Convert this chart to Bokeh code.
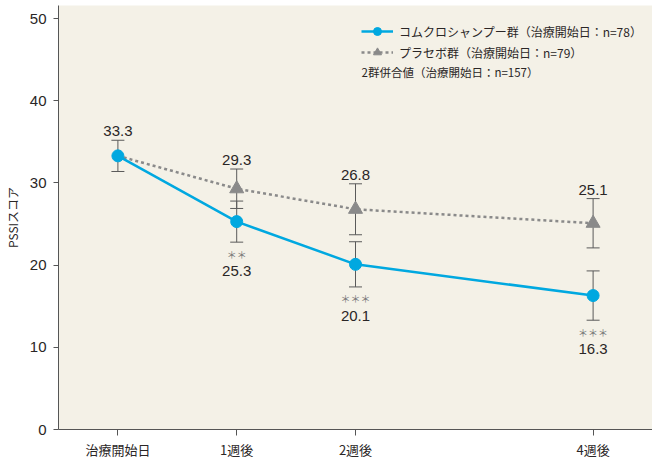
from bokeh.plotting import figure
from bokeh.models import (ColumnDataSource, Whisker, TeeHead, FixedTicker, Legend,
                          LegendItem, Label, Range1d)
from bokeh.core.properties import value
from bokeh.embed import file_html
from bokeh.resources import INLINE

# ---- data ----
tick_weeks = [0, 1, 2, 4]
tick_labels = ["治療開始日", "1週後", "2週後", "4週後"]

baseline_week = [0]
baseline_mean = [33.3]          # 2群併合値
baseline_err = [1.9]

combo_weeks = [1, 2, 4]
combo_mean = [25.3, 20.1, 16.3]
combo_err = [2.5, 2.75, 3.0]
combo_sig = ["＊＊", "＊＊＊", "＊＊＊"]

placebo_weeks = [1, 2, 4]
placebo_mean = [29.3, 26.8, 25.1]
placebo_err = [2.4, 3.1, 3.0]

combo_label = "コムクロシャンプー群（治療開始日：n=78）"
placebo_label = "プラセボ群（治療開始日：n=79）"
pooled_label = "2群併合値（治療開始日：n=157）"
y_label = "PSSIスコア"

# ---- styles ----
CYAN = "#00a8e0"
GREY = "#8a8a8a"
DARK = "#2a2626"
AXIS = "#555555"
JP = "Noto Sans CJK JP"
NUM = "Liberation Sans"

p = figure(width=652, height=461, output_backend="svg", toolbar_location=None,
           x_range=Range1d(-0.5, 4.5), y_range=Range1d(0, 51.6),
           min_border_left=52, min_border_right=0, min_border_top=5, min_border_bottom=26)
p.background_fill_color = "#f4f1e7"
p.border_fill_color = "white"
p.outline_line_color = None
p.xgrid.visible = False
p.ygrid.visible = False

# axes
p.xaxis.ticker = FixedTicker(ticks=tick_weeks)
p.xaxis.major_label_overrides = {w: l for w, l in zip(tick_weeks, tick_labels)}
p.xaxis.major_label_text_font = JP
p.xaxis.major_label_text_font_size = "13px"
p.xaxis.major_label_text_color = DARK
p.xaxis.major_tick_out = 6
p.xaxis.major_tick_in = 0
p.xaxis.minor_tick_line_color = None
p.xaxis.major_label_standoff = 4
p.xaxis.axis_line_color = AXIS
p.xaxis.major_tick_line_color = AXIS

p.yaxis.ticker = FixedTicker(ticks=[0, 10, 20, 30, 40, 50])
p.yaxis.major_label_text_font = NUM
p.yaxis.major_label_text_font_size = "15px"
p.yaxis.major_label_text_color = DARK
p.yaxis.major_tick_out = 5
p.yaxis.major_tick_in = 0
p.yaxis.minor_tick_line_color = None
p.yaxis.major_label_standoff = 7
p.yaxis.axis_line_color = AXIS
p.yaxis.major_tick_line_color = AXIS
p.yaxis.axis_label = y_label
p.yaxis.axis_label_text_font = JP
p.yaxis.axis_label_text_font_size = "12px"
p.yaxis.axis_label_text_font_style = "normal"
p.yaxis.axis_label_text_color = DARK
p.yaxis.axis_label_standoff = 6

# sources
base_src = ColumnDataSource(dict(x=baseline_week, y=baseline_mean,
                                 lo=[m - e for m, e in zip(baseline_mean, baseline_err)],
                                 hi=[m + e for m, e in zip(baseline_mean, baseline_err)],
                                 lab=[f"{v:.1f}" for v in baseline_mean]))
combo_src = ColumnDataSource(dict(x=combo_weeks, y=combo_mean,
                                  lo=[m - e for m, e in zip(combo_mean, combo_err)],
                                  hi=[m + e for m, e in zip(combo_mean, combo_err)],
                                  lab=[f"{v:.1f}" for v in combo_mean], sig=combo_sig))
plac_src = ColumnDataSource(dict(x=placebo_weeks, y=placebo_mean,
                                 lo=[m - e for m, e in zip(placebo_mean, placebo_err)],
                                 hi=[m + e for m, e in zip(placebo_mean, placebo_err)],
                                 lab=[f"{v:.1f}" for v in placebo_mean]))

# whiskers (under glyphs)
for src in (base_src, combo_src, plac_src):
    w = Whisker(source=src, base="x", upper="hi", lower="lo",
                line_color="#5a5a5a", line_width=1,
                upper_head=TeeHead(size=13, line_color="#5a5a5a", line_width=1),
                lower_head=TeeHead(size=13, line_color="#5a5a5a", line_width=1),
                level="underlay")
    p.add_layout(w)

# lines
plac_line = p.line(baseline_week + placebo_weeks, baseline_mean + placebo_mean,
                   line_color=GREY, line_width=2.5, line_dash="3 3")
combo_line = p.line(baseline_week + combo_weeks, baseline_mean + combo_mean,
                    line_color=CYAN, line_width=2.5)

# markers
plac_mk = p.scatter("x", "y", source=plac_src, marker="triangle", size=14,
                    fill_color=GREY, line_color=GREY)
combo_mk = p.scatter("x", "y", source=combo_src, marker="circle", size=12,
                     fill_color=CYAN, line_color=CYAN)
p.scatter("x", "y", source=base_src, marker="circle", size=12,
          fill_color=CYAN, line_color=CYAN)

# value labels
p.text("x", "hi", text="lab", source=base_src, text_font=value(NUM), text_font_size="15px",
       text_color=DARK, text_align="center", text_baseline="alphabetic", y_offset=-9)
p.text("x", "hi", text="lab", source=plac_src, text_font=value(NUM), text_font_size="15px",
       text_color=DARK, text_align="center", text_baseline="alphabetic", y_offset=-9)
p.text("x", "lo", text="sig", source=combo_src, text_font=value(JP), text_font_size="10px",
       text_color="#777777", text_align="center", text_baseline="middle", y_offset=12)
p.text("x", "lo", text="lab", source=combo_src, text_font=value(NUM), text_font_size="15px",
       text_color=DARK, text_align="center", text_baseline="alphabetic", y_offset=29)

# legend
legend = Legend(items=[LegendItem(label=combo_label, renderers=[combo_line, combo_mk]),
                       LegendItem(label=placebo_label, renderers=[plac_line, plac_mk])],
                location=(303, 367), orientation="vertical",
                glyph_width=32, glyph_height=20, label_height=20, spacing=1,
                padding=0, margin=0, label_standoff=6,
                label_text_font=JP, label_text_font_size="12px", label_text_color=DARK,
                border_line_alpha=0, background_fill_alpha=0)
p.add_layout(legend)

p.add_layout(Label(x=303, y=358, x_units="screen", y_units="screen", text=pooled_label,
                   text_font=JP, text_font_size="11.5px", text_color=DARK,
                   text_baseline="middle"))

open("out.html", "w").write(file_html(p, INLINE))
